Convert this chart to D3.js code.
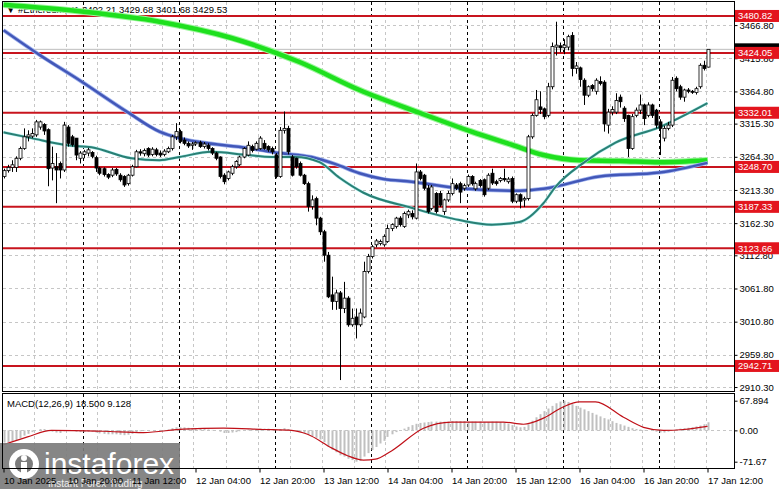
<!DOCTYPE html>
<html><head><meta charset="utf-8">
<script src="https://cdn.jsdelivr.net/npm/d3@7"></script>
<style>
body{margin:0;background:#fff}
svg{display:block}
text{font-family:"Liberation Sans",Arial,sans-serif}
</style></head>
<body><svg id="c" width="781" height="489"></svg>
<script>
// ---- DATA (ETH, H1 candles, 10 Jan 04:00 .. 17 Jan 12:00) ----
const opens=[3234,3243,3248,3248,3262,3277,3295,3296,3298,3310,3314,3306,3247,3249,3254,3244,3310,3295,3293,3262,
3268,3270,3271,3263,3247,3246,3237,3236,3245,3236,3234,3223,3236,3249,3272,3269,3277,3268,3275,3270,
3268,3272,3277,3295,3303,3290,3285,3282,3284,3286,3280,3282,3277,3270,3264,3236,3231,3239,3249,3252,
3264,3267,3280,3276,3277,3285,3280,3277,3267,3234,3305,3308,3264,3262,3254,3236,3223,3188,3200,3170,
3149,3113,3052,3042,3055,3031,3047,3006,3018,3006,3018,3088,3111,3129,3131,3129,3134,3154,3157,3170,
3157,3175,3177,3170,3241,3236,3216,3185,3208,3208,3180,3198,3208,3221,3223,3216,3221,3234,3215,3228,
3229,3216,3239,3226,3228,3231,3226,3231,3196,3206,3198,3200,3295,3328,3341,3338,3328,3372,3433,3435,
3432,3433,3451,3400,3401,3382,3359,3374,3365,3380,3379,3313,3333,3333,3356,3339,3328,3277,3328,3336,
3344,3328,3344,3336,3318,3293,3308,3313,3385,3372,3356,3367,3365,3363,3372,3405,3402.21];
const highs=[3246,3252,3259,3265,3280,3308,3305,3308,3321,3320,3316,3308,3280,3270,3257,3318,3313,3298,3293,3273,
3275,3278,3273,3266,3249,3248,3239,3247,3247,3239,3236,3238,3252,3275,3276,3277,3279,3279,3278,3274,
3276,3280,3298,3316,3306,3294,3288,3287,3288,3289,3287,3285,3279,3272,3265,3239,3243,3252,3259,3266,
3279,3288,3283,3288,3296,3290,3282,3280,3270,3310,3334,3312,3267,3263,3257,3238,3226,3205,3203,3172,
3152,3118,3080,3060,3058,3072,3050,3031,3031,3031,3103,3115,3129,3138,3137,3145,3160,3162,3172,3173,
3180,3183,3182,3254,3244,3238,3221,3221,3210,3212,3200,3212,3231,3224,3226,3223,3237,3236,3226,3230,
3231,3239,3246,3229,3233,3246,3233,3234,3208,3208,3203,3298,3331,3367,3365,3340,3378,3440,3472,3440,
3445,3452,3456,3410,3403,3385,3374,3376,3385,3388,3382,3338,3342,3362,3360,3342,3329,3330,3340,3360,
3346,3348,3346,3338,3322,3312,3318,3387,3388,3375,3369,3370,3367,3372,3408,3412,3429.68];
const lows=[3231,3240,3241,3241,3259,3275,3288,3293,3295,3306,3298,3219,3228,3193,3231,3241,3280,3280,3259,3254,
3262,3265,3262,3241,3236,3234,3230,3233,3235,3226,3218,3220,3234,3248,3266,3265,3264,3265,3265,3264,
3265,3270,3274,3290,3285,3282,3278,3275,3281,3278,3277,3274,3267,3259,3231,3222,3228,3236,3246,3250,
3262,3265,3271,3274,3275,3275,3272,3268,3231,3232,3300,3268,3234,3246,3234,3221,3180,3183,3159,3144,
3103,3047,3029,3029,2921,3024,3003,3003,2985,3003,3016,3085,3108,3125,3128,3126,3132,3150,3154,3157,
3155,3170,3168,3168,3228,3213,3177,3182,3177,3187,3175,3195,3205,3213,3193,3212,3218,3220,3212,3217,
3203,3213,3221,3220,3225,3226,3223,3193,3193,3185,3187,3197,3292,3326,3330,3322,3325,3368,3420,3425,
3422,3428,3388,3392,3372,3344,3356,3365,3360,3374,3303,3300,3328,3330,3340,3318,3264,3275,3325,3330,
3313,3325,3324,3308,3267,3288,3305,3310,3365,3352,3349,3362,3361,3360,3369,3397,3401.68];
const closes=[3243,3248,3252,3262,3277,3295,3298,3300,3318,3318,3304,3246,3254,3244,3244,3313,3285,3283,3267,3270,
3272,3275,3265,3247,3239,3237,3233,3244,3238,3229,3221,3236,3249,3272,3270,3274,3267,3276,3268,3267,
3273,3277,3295,3303,3288,3285,3281,3284,3286,3280,3284,3277,3270,3262,3234,3226,3241,3249,3257,3264,
3277,3282,3274,3285,3293,3277,3275,3272,3234,3305,3308,3272,3236,3249,3236,3223,3188,3198,3170,3149,
3113,3049,3042,3055,3031,3047,3006,3016,3006,3024,3088,3111,3126,3135,3134,3142,3154,3160,3170,3160,
3177,3180,3172,3241,3231,3216,3180,3218,3180,3190,3198,3208,3223,3216,3210,3220,3234,3223,3223,3220,
3206,3236,3224,3223,3231,3229,3230,3196,3206,3196,3200,3295,3328,3352,3337,3326,3372,3434,3436,3432,
3436,3449,3400,3404,3383,3359,3372,3369,3382,3377,3315,3333,3337,3351,3349,3323,3277,3326,3336,3344,
3323,3344,3328,3313,3308,3308,3313,3382,3369,3356,3367,3365,3364,3369,3405,3400,3429.53];

// moving averages (bar index, price)
const maSlowIdx=[0,19,39,57,74,89,104,117,127,135,144,154,164,176];
const maSlowVal=[3498,3488,3472,3447,3410,3367,3332,3303,3283,3267,3259,3258,3256,3259];
const maMidIdx=[0,9,19,31,39,44,49,61,69,77,83,89,95,102,114,129,135,149,164,176];
const maMidVal=[3459,3421,3382,3333,3303,3293,3287,3278,3270,3264,3253,3239,3230,3226,3216,3212,3215,3234,3240,3255];
const maFastIdx=[0,7,16,22,32,39,44,52,61,67,73,79,84,90,102,114,122,129,135,138,145,153,164,176];
const maFastVal=[3302,3293,3282,3279,3262,3259,3264,3272,3267,3264,3264,3256,3232,3209,3186,3167,3160,3164,3193,3218,3255,3286,3310,3347];

// MACD histogram (one per bar) and signal line samples
const macdHist=[-28,-27,-25,-22,-18,-12,-8,-4,0,3,
3,1,-3,-5,-6,-2,0,-1,-3,-4,
-4,-3,-3,-5,-7,-8,-9,-9,-9,-10,
-11,-10,-8,-4,-2,-1,0,0,0,1,
1,2,5,7,7,7,6,5,4,3,
3,2,1,0,-3,-6,-6,-5,-4,-2,
0,2,2,3,4,4,4,3,-1,3,
5,3,0,-2,-4,-6,-10,-13,-17,-21,
-27,-37,-44,-50,-57,-60,-65,-68,-71.67,-70,
-60,-52,-45,-38,-30,-24,-15,-9,-4,0,
4,8,12,15,17,18,19,20,20,20,
20,20,21,21,21,21,20,20,20,20,
19,19,20,20,19,18,15,12,9,7,
8,14,22,30,37,44,50,56,62,66,
67.894,65,60,56,52,48,44,40,36,32,
28,25,21,17,14,11,8,5,3,2,
1,0,-1,-3,-5,-5,-3,-1,2,4,
5,6,7,9,11,14,18.5];
const sigIdx=[0,6,12,25,35,45,55,65,72,76,82,86,90,93,97,105,112,125,130,135,140,144,148,155,160,165,170,176];
const sigVal=[-33,-15,0,-2,-5,3,5,2,0,-9,-40,-58,-68,-66,-47,5,19,19,14,28,54,65,65,30,7,0,2,9.128];

// levels and ticks
const levels=[3480.82,3424.05,3332.01,3248.70,3187.33,3123.66,2942.71];
const lastPrice=3429.53;
const priceTicks=[3466.80,3415.80,3364.80,3315.30,3264.30,3213.30,3162.30,3112.80,3061.80,3010.80,2959.80,2910.30];
const macdTicks=[67.894,0,-71.67];
const macdTickLabels=["67.894","0.00","-71.67"];
const timeTickIdx=[0,16,32,48,64,80,96,112,128,144,160,176];
const timeTickLabels=["10 Jan 2025","10 Jan 20:00","11 Jan 12:00","12 Jan 04:00","12 Jan 20:00","13 Jan 12:00","14 Jan 04:00","14 Jan 20:00","15 Jan 12:00","16 Jan 04:00","16 Jan 20:00","17 Jan 12:00"];
const daySepIdx=[20,44,68,92,116,140,164];
const gridIdx=[8,16,24,32,40,48,56,64,72,80,88,96,104,112,120,128,136,144,152,160,168,176];

// ---- SCALES ----
const svg=d3.select("#c");
const L=3,R=734,T=2,B=391,MT=394,MB=468;
const x=d3.scaleLinear().domain([0,176]).range([3.5,707.5]);
const y=d3.scaleLinear().domain([2904.2,3502.3]).range([391,2]);
const ym=d3.scaleLinear().domain([-86.1,83.2]).range([468,394]);

const defs=svg.append("defs");
defs.append("clipPath").attr("id","cm").append("rect").attr("x",L).attr("y",T).attr("width",R-L).attr("height",B-T);
defs.append("clipPath").attr("id","cd").append("rect").attr("x",L).attr("y",MT).attr("width",R-L).attr("height",MB-MT);

// grid
const grid=svg.append("g");
grid.selectAll("line.hg").data(priceTicks).join("line")
  .attr("x1",L).attr("x2",R).attr("y1",d=>Math.round(y(d))+0.5).attr("y2",d=>Math.round(y(d))+0.5)
  .attr("stroke","#c6c6c6").attr("stroke-dasharray","3,3");
grid.append("line").attr("x1",L).attr("x2",R).attr("y1",Math.round(ym(0))+0.5).attr("y2",Math.round(ym(0))+0.5)
  .attr("stroke","#c6c6c6").attr("stroke-dasharray","3,3");
[[T,B],[MT,MB]].forEach(([a,b])=>{
  grid.selectAll(null).data(gridIdx.filter(d=>!daySepIdx.includes(d))).join("line")
    .attr("x1",d=>Math.round(x(d))-1.5).attr("x2",d=>Math.round(x(d))-1.5).attr("y1",a).attr("y2",b)
    .attr("stroke","#c6c6c6").attr("stroke-dasharray","3,3");
  grid.selectAll(null).data(daySepIdx).join("line")
    .attr("x1",d=>Math.round(x(d))-0.5).attr("x2",d=>Math.round(x(d))-0.5).attr("y1",a).attr("y2",b)
    .attr("stroke","#000").attr("stroke-dasharray","3,3");
});

// header
svg.append("text").attr("x",6).attr("y",13).attr("font-size","9.5px").text("\u25BC #Ethereum,H1  3402.21 3429.68 3401.68 3429.53");

// level lines
const main=svg.append("g").attr("clip-path","url(#cm)");
main.selectAll("line.lv").data(levels).join("line")
  .attr("x1",L).attr("x2",R).attr("y1",d=>y(d)).attr("y2",d=>y(d))
  .attr("stroke","#c8141e").attr("stroke-width",2);
main.append("line").attr("x1",L).attr("x2",R).attr("y1",y(lastPrice)).attr("y2",y(lastPrice)).attr("stroke","#bdbdbd");

// moving averages
const ln=d3.line().curve(d3.curveMonotoneX);
function ma(idx,val){return ln(idx.map((d,k)=>[x(d),y(val[k])]));}
main.append("path").attr("d",ma(maSlowIdx,maSlowVal)).attr("fill","none").attr("stroke","#9cf59c").attr("stroke-width",6.5);
main.append("path").attr("d",ma(maSlowIdx,maSlowVal)).attr("fill","none").attr("stroke","#1ee01e").attr("stroke-width",4.5);
main.append("path").attr("d",ma(maMidIdx,maMidVal)).attr("fill","none").attr("stroke","#9fb2ee").attr("stroke-width",4);
main.append("path").attr("d",ma(maMidIdx,maMidVal)).attr("fill","none").attr("stroke","#4257b8").attr("stroke-width",2.5);
main.append("path").attr("d",ma(maFastIdx,maFastVal)).attr("fill","none").attr("stroke","#aeeeee").attr("stroke-width",3);
main.append("path").attr("d",ma(maFastIdx,maFastVal)).attr("fill","none").attr("stroke","#2a7f74").attr("stroke-width",2);

// candles
const cd=main.append("g");
const idx=d3.range(opens.length);
cd.selectAll("line.w").data(idx).join("line")
  .attr("x1",i=>Math.round(x(i))+0.5).attr("x2",i=>Math.round(x(i))+0.5)
  .attr("y1",i=>y(highs[i])).attr("y2",i=>y(lows[i])).attr("stroke","#000");
cd.selectAll("rect").data(idx).join("rect")
  .attr("x",i=>Math.round(x(i))-1)
  .attr("y",i=>y(Math.max(opens[i],closes[i])))
  .attr("width",3)
  .attr("height",i=>Math.max(1,Math.abs(y(opens[i])-y(closes[i]))))
  .attr("fill",i=>closes[i]>=opens[i]?"#fff":"#000")
  .attr("stroke","#000").attr("stroke-width",0.8);

// MACD
const md=svg.append("g").attr("clip-path","url(#cd)");
md.selectAll("rect").data(idx).join("rect")
  .attr("x",i=>Math.round(x(i))-0.5).attr("width",2)
  .attr("y",i=>Math.min(ym(macdHist[i]),ym(0))).attr("height",i=>Math.abs(ym(macdHist[i])-ym(0)))
  .attr("fill","#c0c0c0");
md.append("path").attr("d",d3.line().curve(d3.curveMonotoneX)(sigIdx.map((d,k)=>[x(d),ym(sigVal[k])])))
  .attr("fill","none").attr("stroke","#c01018").attr("stroke-width",1.2);
svg.append("text").attr("x",7).attr("y",407).attr("font-size","9.5px").text("MACD(12,26,9) 18.500 9.128");

// logo (watermark)
const lg=svg.append("g");
lg.append("rect").attr("x",0).attr("y",443).attr("width",180).attr("height",46).attr("fill","#7c7c7c").attr("opacity",0.92);
lg.append("circle").attr("cx",24).attr("cy",464).attr("r",15).attr("fill","#fff");
lg.append("circle").attr("cx",24).attr("cy",464).attr("r",9).attr("fill","#7c7c7c");
lg.append("circle").attr("cx",24).attr("cy",458).attr("r",3).attr("fill","#fff");
lg.append("rect").attr("x",21).attr("y",462).attr("width",6).attr("height",12).attr("fill","#fff");
lg.append("text").attr("x",44).attr("y",474).attr("font-family","'Open Sans',sans-serif").attr("font-size","30px").attr("fill","#fff").text("instaforex");
lg.append("text").attr("x",48).attr("y",487).attr("font-family","'Open Sans',sans-serif").attr("font-size","10px").attr("fill","#eee").text("Instant Forex Trading");

// frames
const fr=svg.append("g").attr("fill","none").attr("stroke","#000");
fr.append("rect").attr("x",L-0.5).attr("y",T-0.5).attr("width",R-L+1).attr("height",B-T+1);
fr.append("rect").attr("x",L-0.5).attr("y",MT-0.5).attr("width",R-L+1).attr("height",MB-MT+1);

// price axis
const ay=svg.append("g").attr("transform",`translate(${R+0.5},0)`)
  .call(d3.axisRight(y).tickValues(priceTicks).tickFormat(d3.format(".2f")).tickSize(3).tickPadding(2));
ay.select(".domain").remove();
ay.selectAll("text").attr("font-size","9.5px").attr("fill","#000").attr("font-family","'Liberation Sans',Arial,sans-serif");

// MACD axis
const am=svg.append("g").attr("transform",`translate(${R+0.5},0)`)
  .call(d3.axisRight(ym).tickValues(macdTicks).tickFormat((d,i)=>macdTickLabels[i]).tickSize(3).tickPadding(2));
am.select(".domain").remove();
am.selectAll("text").attr("font-size","9.5px").attr("fill","#000").attr("font-family","'Liberation Sans',Arial,sans-serif");

// time axis
const ax=svg.append("g").attr("transform",`translate(0,${MB+0.5})`)
  .call(d3.axisBottom(x).tickValues(timeTickIdx).tickFormat((d,i)=>timeTickLabels[i]).tickSize(4).tickPadding(5));
ax.select(".domain").remove();
ax.selectAll("text").attr("text-anchor","start").attr("font-size","9.5px").attr("fill","#000").attr("font-family","'Liberation Sans',Arial,sans-serif");

// current price marker (hidden under the level label) and level labels
const lab=svg.append("g");
lab.append("rect").attr("x",R+1).attr("y",y(lastPrice)-6).attr("width",44).attr("height",12).attr("fill","#000");
lab.selectAll("rect.lv").data(levels).join("rect").attr("class","lv")
  .attr("x",R+1).attr("y",d=>y(d)-6).attr("width",44).attr("height",12).attr("fill","#e3151e");
lab.selectAll("text.lv").data(levels).join("text").attr("class","lv")
  .attr("x",R+4).attr("y",d=>y(d)+3.5).attr("font-size","9.5px").attr("fill","#fff").text(d=>d3.format(".2f")(d));
</script></body></html>
